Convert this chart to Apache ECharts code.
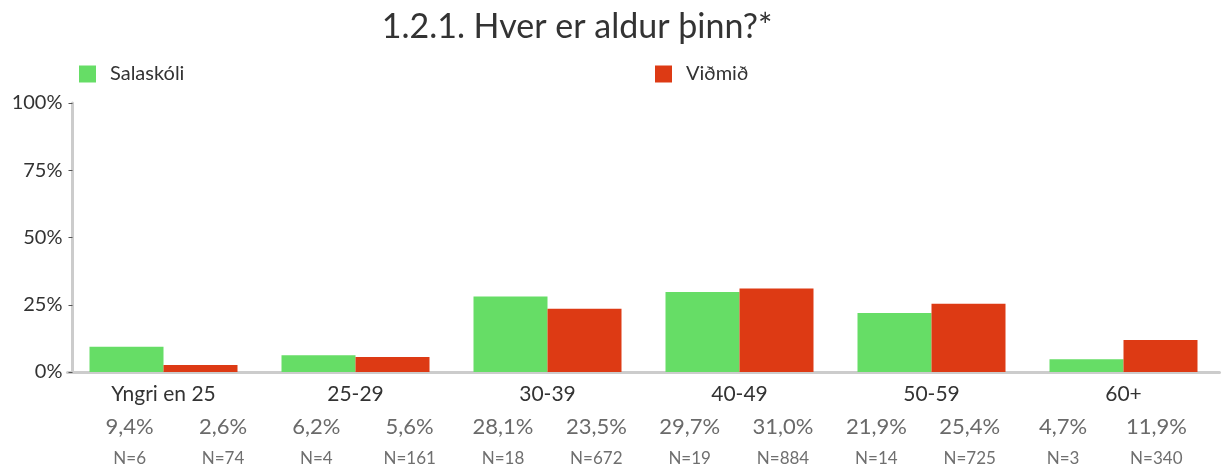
<!DOCTYPE html>
<html>
<head>
<meta charset="utf-8">
<script src="https://cdn.jsdelivr.net/npm/echarts@6/dist/echarts.min.js"></script>
<style>
  html, body { margin: 0; padding: 0; background: #fff; }
  #chart { width: 1225px; height: 468px; }
</style>
</head>
<body>
<div id="chart"></div>
<script>
// aldurshópar
var categories = ['Yngri en 25', '25-29', '30-39', '40-49', '50-59', '60+']
var salaskoli = [9.4, 6.2, 28.1, 29.7, 21.9, 4.7]
var vidmid = [2.6, 5.6, 23.5, 31.0, 25.4, 11.9]
var nSalaskoli = [6, 4, 18, 19, 14, 3]
var nVidmid = [74, 161, 672, 884, 725, 340]
var yTicks = [0, 25, 50, 75, 100]

// prosentur og N undir hverri súlu, til skiptis skóli / viðmið
var pctLabels = []
var nLabels = []
for (var i = 0; i < categories.length; i++) {
  pctLabels.push(salaskoli[i].toFixed(1).replace('.', ',') + '%')
  pctLabels.push(vidmid[i].toFixed(1).replace('.', ',') + '%')
  nLabels.push('N=' + nSalaskoli[i])
  nLabels.push('N=' + nVidmid[i])
}

var font = 'Lato, "Open Sans", sans-serif'
var chart = echarts.init(document.getElementById('chart'))

var option = {
  animation: false,
  textStyle: { fontFamily: font },
  title: {
    text: '1.2.1. Hver er aldur þinn?*',
    left: 572,
    top: 5,
    textAlign: 'center',
    textStyle: { fontSize: 34, fontWeight: 'normal', color: '#333', fontFamily: font }
  },
  legend: [
    {
      data: ['Salaskóli'], left: 79, top: 64, padding: 0,
      icon: 'rect', itemWidth: 17, itemHeight: 17,
      textStyle: { fontSize: 20, color: '#333', padding: [0, 0, 0, 9] }
    },
    {
      data: ['Viðmið'], left: 655, top: 64, padding: 0,
      icon: 'rect', itemWidth: 17, itemHeight: 17,
      textStyle: { fontSize: 20, color: '#333', padding: [0, 0, 0, 9] }
    }
  ],
  grid: [
    { left: 67.5, right: 5.5, top: 103, bottom: 96 }, // súlur
    { left: 83, right: 22, top: 103, bottom: 96 } // merkingar undir
  ],
  xAxis: [
    {
      type: 'category', gridIndex: 0, data: categories,
      axisLine: { lineStyle: { color: '#cccccc', width: 3 } },
      axisTick: { show: false },
      axisLabel: { fontSize: 21, color: '#333', margin: 12 }
    },
    {
      type: 'category', gridIndex: 1, data: pctLabels, position: 'bottom',
      axisLine: { show: false }, axisTick: { show: false },
      axisLabel: { interval: 0, fontSize: 22, color: '#6a6a6a', margin: 44 }
    },
    {
      type: 'category', gridIndex: 1, data: nLabels, position: 'bottom',
      axisLine: { show: false }, axisTick: { show: false },
      axisLabel: { interval: 0, fontSize: 17, color: '#6f6f6f', margin: 78 }
    }
  ],
  yAxis: [
    {
      type: 'value', gridIndex: 0, min: yTicks[0], max: yTicks[yTicks.length - 1], interval: 25,
      offset: -5,
      axisLine: { show: true, lineStyle: { color: '#cccccc', width: 3 } },
      axisTick: { show: true, length: 4, lineStyle: { color: '#555' } },
      splitLine: { show: false },
      axisLabel: { formatter: '{value}%', fontSize: 20, color: '#333', margin: 10 }
    },
    { type: 'value', gridIndex: 1, show: false, min: 0, max: 100 }
  ],
  series: [
    {
      name: 'Salaskóli', type: 'bar', xAxisIndex: 0, yAxisIndex: 0,
      data: salaskoli, barWidth: 74, barGap: '0%',
      itemStyle: { color: '#66dd66' }
    },
    {
      name: 'Viðmið', type: 'bar', xAxisIndex: 0, yAxisIndex: 0,
      data: vidmid, barWidth: 74, barGap: '0%',
      itemStyle: { color: '#dd3a14' }
    }
  ]
}
chart.setOption(option)
</script>
</body>
</html>
